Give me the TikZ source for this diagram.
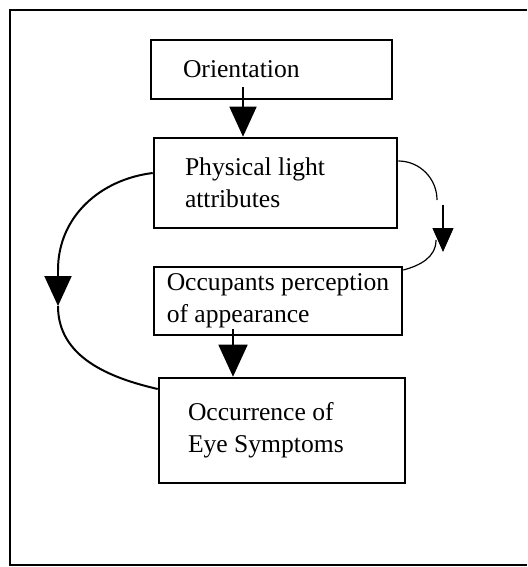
\documentclass[tikz,border=0pt]{standalone}
\usepackage{fontspec}
\setmainfont{Liberation Serif}
\usetikzlibrary{arrows.meta}

\tikzset{
  box/.style={draw, line width=1.3pt, align=flush left, inner ysep=2pt,
    font=\fontsize{12.8}{16}\selectfont},
  headbig/.style={line width=0.9pt, -{Triangle[width=13.5pt,length=15pt]}},
  headsmall/.style={line width=0.6pt, -{Triangle[width=10.5pt,length=12pt]}}
}

\begin{document}
\begin{tikzpicture}[x=0.5pt,y=-0.5pt]
            \useasboundingbox (0,0) rectangle (527,567);
            \draw[line width=1.1pt] (527,10)--(10,10)--(10,565)--(527,565); % Open frame
            % Boxes
            \node[box, minimum width=120.5pt, minimum height=29.5pt, text width=88.5pt]
                (orient) at (271.5,69.5) {Orientation};
            \node[box, minimum width=121.5pt, minimum height=45pt, text width=90.5pt]
                (phys) at (275.5,183) {Physical light\\attributes};
            \node[box, minimum width=124pt, minimum height=34pt]
                (occ) at (278,301) {Occupants perception\\of appearance};
            \node[box, minimum width=123pt, minimum height=52.5pt, text width=94pt]
                (occur) at (282,430.5) {Occurrence of\\Eye Symptoms};
            % Straight arrows
            \draw[headbig] ([xshift=-14.25pt,yshift=6.5pt]orient.south) coordinate (o1)
                -- (o1 |- phys.north);
            \draw[headbig, -{Triangle[width=14.5pt,length=16pt]}]
                ([xshift=-22.5pt,yshift=3.5pt]occ.south) coordinate (p1) -- (p1 |- occur.north);
            % Left loop: physical attributes -> eye symptoms
            \coordinate (l1) at (58,270);
            \coordinate (l2) at (58,306);
            \draw[line width=1pt] ([yshift=5pt]phys.west) to[out=187,in=90] (l1);
            \draw[headbig, line width=1pt] (l1) -- (l2);
            \draw[line width=1pt] (l2) to[out=-90,in=167] ([yshift=20.75pt]occur.west);
            % Right loop: physical attributes -> perception
            \coordinate (r1) at (437,200);
            \coordinate (r2) at (443,205);
            \coordinate (r3) at (443,252);
            \coordinate (r4) at (436,240);
            \draw[line width=0.6pt] ([yshift=11pt]phys.east) to[out=0,in=90] (r1);
            \draw[headsmall] (r2) -- (r3);
            \draw[line width=0.6pt] (r4) to[out=-90,in=15] ([yshift=15.5pt]occ.east);
        \end{tikzpicture}
\end{document}
